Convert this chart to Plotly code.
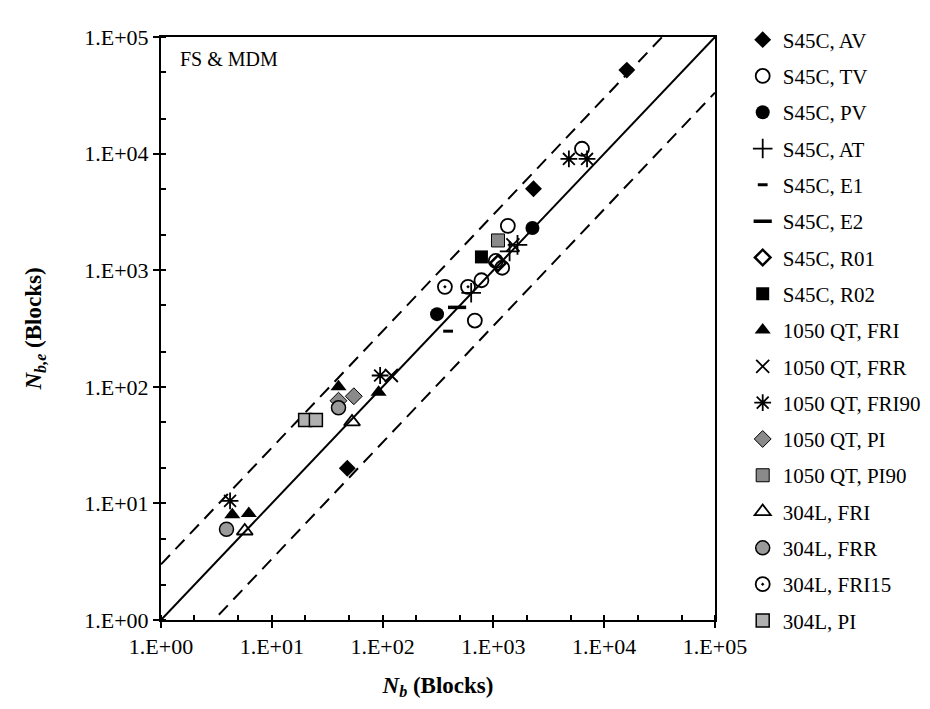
import plotly.graph_objects as go

# ---- data (Nb, Nb,e) per series ----
series_names = ["S45C, AV", "S45C, TV", "S45C, PV", "S45C, AT", "S45C, E1", "S45C, E2",
                "S45C, R01", "S45C, R02", "1050 QT, FRI", "1050 QT, FRR", "1050 QT, FRI90",
                "1050 QT, PI", "1050 QT, PI90", "304L, FRI", "304L, FRR", "304L, FRI15", "304L, PI"]

av_x = [16000, 2300, 48];            av_y = [52000, 5000, 20]
tv_x = [6300, 1350, 1050, 1200, 780, 680]; tv_y = [11000, 2400, 1200, 1050, 820, 370]
pv_x = [2250, 310];                  pv_y = [2300, 420]
at_x = [630, 1400, 1650];            at_y = [640, 1450, 1650]
e1_x = [390];                        e1_y = [300]
e2_x = [470];                        e2_y = [480]
r01_x = [1100];                      r01_y = [1150]
r02_x = [780];                       r02_y = [1300]
qfri_x = [40, 92, 4.4, 6.2];         qfri_y = [100, 90, 8.0, 8.2]
qfrr_x = [1500, 120];                qfrr_y = [1650, 125]
qfri90_x = [4800, 7000, 95, 4.2];    qfri90_y = [9000, 9000, 125, 10.5]
qpi_x = [40, 55];                    qpi_y = [76, 83]
qpi90_x = [1100];                    qpi90_y = [1800]
lfri_x = [53, 5.7];                  lfri_y = [50, 5.8]
lfrr_x = [40, 3.9];                  lfrr_y = [66, 6.0]
lfri15_x = [365, 590];               lfri15_y = [720, 720]
lpi_x = [20, 25];                    lpi_y = [52, 52]

xs = [av_x, tv_x, pv_x, at_x, e1_x, e2_x, r01_x, r02_x, qfri_x, qfrr_x, qfri90_x,
      qpi_x, qpi90_x, lfri_x, lfrr_x, lfri15_x, lpi_x]
ys = [av_y, tv_y, pv_y, at_y, e1_y, e2_y, r01_y, r02_y, qfri_y, qfrr_y, qfri90_y,
      qpi_y, qpi90_y, lfri_y, lfrr_y, lfri15_y, lpi_y]

# reference lines: Nb,e = factor * Nb
line_factors = [1, 3, 1/3]
line_styles = ["solid", "13px,8px", "13px,8px"]
axis_min, axis_max = 1, 1e5

tick_vals = [1, 10, 100, 1000, 10000, 100000]
tick_text = ["1.E+00", "1.E+01", "1.E+02", "1.E+03", "1.E+04", "1.E+05"]

# ---- styles ----
K = "black"
styles = [
    dict(symbol="diamond", size=13, color=K),
    dict(symbol="circle-open", size=14, color=K, line=dict(width=1.8, color=K)),
    dict(symbol="circle", size=14, color=K),
    dict(symbol="cross-thin-open", size=14, color=K, line=dict(width=1.8, color=K)),
    dict(symbol="line-ew-open", size=7, color=K, line=dict(width=3, color=K)),
    dict(symbol="line-ew-open", size=13, color=K, line=dict(width=3.5, color=K)),
    dict(symbol="diamond-open", size=12, color=K, line=dict(width=2.5, color=K)),
    dict(symbol="square", size=13, color=K),
    dict(symbol="triangle-up", size=14, color=K),
    dict(symbol="x-thin-open", size=13, color=K, line=dict(width=1.8, color=K)),
    dict(symbol="asterisk-open", size=14, color=K, line=dict(width=1.8, color=K)),
    dict(symbol="diamond", size=13, color="#8a8a8a", line=dict(width=1, color=K)),
    dict(symbol="square", size=13, color="#8a8a8a", line=dict(width=1, color=K)),
    dict(symbol="triangle-up-open", size=14, color=K, line=dict(width=1.8, color=K)),
    dict(symbol="circle", size=14, color="#9a9a9a", line=dict(width=1.5, color=K)),
    dict(symbol="circle-open-dot", size=14, color=K, line=dict(width=1.8, color=K)),
    dict(symbol="square", size=13, color="#b0b0b0", line=dict(width=1.5, color=K)),
]

fig = go.Figure()

for f, d in zip(line_factors, line_styles):
    lx = [axis_min, axis_max]
    ly = [axis_min * f, axis_max * f]
    fig.add_trace(go.Scatter(x=lx, y=ly, mode="lines", showlegend=False,
                             line=dict(color=K, width=2, dash=d), hoverinfo="skip"))

for i, (name, x, y, st) in enumerate(zip(series_names, xs, ys, styles)):
    fig.add_trace(go.Scatter(x=x, y=y, mode="markers", name=name, marker=st,
                             legendgroup=f"g{i}"))

font_family = "Liberation Serif"

axis_common = dict(
    type="log", range=[0, 5], tickvals=tick_vals, ticktext=tick_text,
    showline=True, linecolor=K, linewidth=2, mirror=True,
    ticks="outside", ticklen=6, tickwidth=2, tickcolor=K,
    minor=dict(ticks="inside", ticklen=5, tickwidth=1.5, tickcolor=K, showgrid=False),
    showgrid=False, zeroline=False,
    tickfont=dict(family=font_family, size=22, color=K),
)

fig.update_layout(
    width=930, height=709,
    margin=dict(l=153, r=217, t=23, b=97),
    paper_bgcolor="white", plot_bgcolor="white",
    font=dict(family=font_family, size=22, color=K),
    xaxis=dict(**axis_common,
               title=dict(text="<b><i>N</i><sub><i>b</i></sub> (Blocks)</b>",
                          font=dict(family=font_family, size=23, color=K), standoff=18)),
    yaxis=dict(**axis_common,
               title=dict(text="<b><i>N</i><sub><i>b,e</i></sub> (Blocks)</b>",
                          font=dict(family=font_family, size=23, color=K), standoff=36)),
    legend=dict(x=1.05, xanchor="left", y=1.03, yanchor="top",
                font=dict(family=font_family, size=21, color=K), maxheight=1,
                itemwidth=30, tracegroupgap=6, bgcolor="rgba(0,0,0,0)"),
    annotations=[dict(text="FS & MDM", xref="paper", yref="paper", x=0.03, y=0.985,
                      xanchor="left", yanchor="top", showarrow=False,
                      font=dict(family=font_family, size=20, color=K))],
)

fig.write_html("out.html")
